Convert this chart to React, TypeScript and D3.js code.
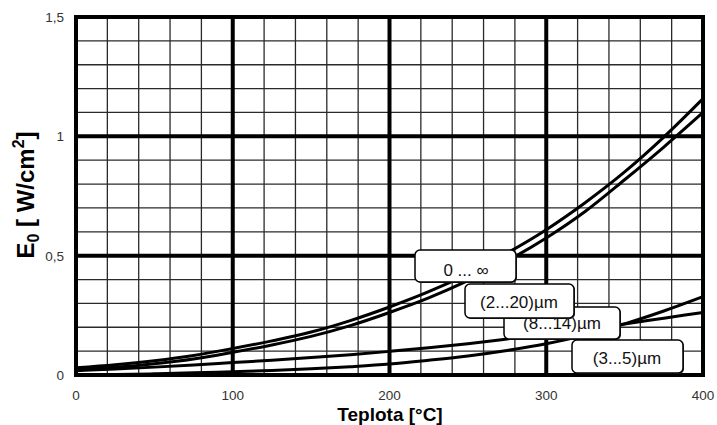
import React from "react";
import * as d3 from "d3";

const temps = [0, 25, 50, 75, 100, 125, 150, 175, 200, 225, 250, 275, 300, 325, 350, 375, 400];
const total = [0.03, 0.043, 0.06, 0.082, 0.111, 0.143, 0.18, 0.228, 0.285, 0.349, 0.424, 0.511, 0.609, 0.723, 0.851, 0.997, 1.158];
const band2to20 = [0.022, 0.032, 0.047, 0.067, 0.095, 0.126, 0.162, 0.207, 0.262, 0.323, 0.395, 0.478, 0.574, 0.686, 0.818, 0.955, 1.1];
const band8to14 = [0.018, 0.025, 0.033, 0.042, 0.052, 0.062, 0.073, 0.085, 0.099, 0.114, 0.131, 0.151, 0.172, 0.193, 0.214, 0.238, 0.262];
const band3to5 = [0.0, 0.002, 0.005, 0.009, 0.014, 0.019, 0.026, 0.035, 0.046, 0.062, 0.08, 0.103, 0.131, 0.167, 0.214, 0.268, 0.328];

const xTicks = [0, 100, 200, 300, 400];
const xTickLabels = ["0", "100", "200", "300", "400"];
const yTicks = [0, 0.5, 1, 1.5];
const yTickLabels = ["0", "0,5", "1", "1,5"];

const labelTexts = ["0 ... \u221E", "(8...14)\u00B5m", "(2...20)\u00B5m", "(3...5)\u00B5m"];

const W = 717;
const H = 425;
const FONT = "'Liberation Sans', Arial, sans-serif";

export default function App() {
  const x = d3.scaleLinear().domain([0, 400]).range([76, 703]);
  const y = d3.scaleLinear().domain([0, 1.5]).range([375, 17]);

  const line = d3
    .line<number>()
    .x((_, i) => x(temps[i]))
    .y((d) => y(d))
    .curve(d3.curveMonotoneX);

  const minorX = d3.range(0, 401, 20).filter((v) => v % 100 !== 0);
  const minorY = d3.range(1, 15).map((v) => v / 10).filter((v) => Math.abs(v - 0.5) > 1e-6 && Math.abs(v - 1) > 1e-6);
  const majorX = [100, 200, 300];
  const majorY = [0.5, 1];

  const boxes = [
    { x0: 415, y0: 250, x1: 516, y1: 282, tx: 466, ty: 276, text: labelTexts[0] },
    { x0: 504, y0: 307, x1: 620, y1: 339, tx: 562, ty: 329, text: labelTexts[1] },
    { x0: 465, y0: 284, x1: 574, y1: 318, tx: 519, ty: 308, text: labelTexts[2] },
    { x0: 572, y0: 340, x1: 683, y1: 373, tx: 627, ty: 364, text: labelTexts[3] },
  ];

  const series = [total, band2to20, band8to14, band3to5];

  return (
    <svg
      width={W}
      height={H}
      style={{ position: "absolute", left: 0, top: 0, background: "#fff" }}
      fontFamily={FONT}
    >
      <rect x={0} y={0} width={W} height={H} fill="#fff" />
      {minorX.map((v) => (
        <line key={"mx" + v} x1={x(v)} x2={x(v)} y1={y(1.5)} y2={y(0)} stroke="#2a2a2a" strokeWidth={1.3} />
      ))}
      {minorY.map((v) => (
        <line key={"my" + v} x1={x(0)} x2={x(400)} y1={y(v)} y2={y(v)} stroke="#2a2a2a" strokeWidth={1.3} />
      ))}
      {majorX.map((v) => (
        <line key={"Mx" + v} x1={x(v)} x2={x(v)} y1={y(1.5)} y2={y(0)} stroke="#000" strokeWidth={4} />
      ))}
      {majorY.map((v) => (
        <line key={"My" + v} x1={x(0)} x2={x(400)} y1={y(v)} y2={y(v)} stroke="#000" strokeWidth={4} />
      ))}
      {series.map((s, i) => (
        <path key={"s" + i} d={line(s) || ""} fill="none" stroke="#000" strokeWidth={3} />
      ))}
      <rect
        x={x(0)}
        y={y(1.5)}
        width={x(400) - x(0)}
        height={y(0) - y(1.5)}
        fill="none"
        stroke="#000"
        strokeWidth={4}
      />
      {boxes.map((b, i) => (
        <g key={"b" + i}>
          <rect x={b.x0 + 1} y={b.y0 + 1} width={b.x1 - b.x0} height={b.y1 - b.y0} rx={5} fill="#333" />
          <rect x={b.x0} y={b.y0} width={b.x1 - b.x0} height={b.y1 - b.y0} rx={5} fill="#fff" stroke="#000" strokeWidth={1.5} />
          <text x={b.tx} y={b.ty} textAnchor="middle" fontSize={17} fill="#111">
            {b.text}
          </text>
        </g>
      ))}
      {xTicks.map((v, i) => (
        <text key={"xt" + v} x={x(v)} y={400} textAnchor="middle" fontSize={13.5} fill="#333">
          {xTickLabels[i]}
        </text>
      ))}
      {yTicks.map((v, i) => (
        <text key={"yt" + v} x={64} y={y(v) + 5} textAnchor="end" fontSize={13.5} fill="#333">
          {yTickLabels[i]}
        </text>
      ))}
      <text x={390} y={421} textAnchor="middle" fontSize={19} fontWeight="bold" fill="#000">
        Teplota [°C]
      </text>
      <text transform="translate(34,195) rotate(-90)" textAnchor="middle" fontSize={24} fontWeight="bold" fill="#000">
        <tspan>E</tspan>
        <tspan fontSize={16} dy={5}>0</tspan>
        <tspan dy={-5}> [ W/cm</tspan>
        <tspan fontSize={16} dy={-10}>2</tspan>
        <tspan dy={10}>]</tspan>
      </text>
    </svg>
  );
}
